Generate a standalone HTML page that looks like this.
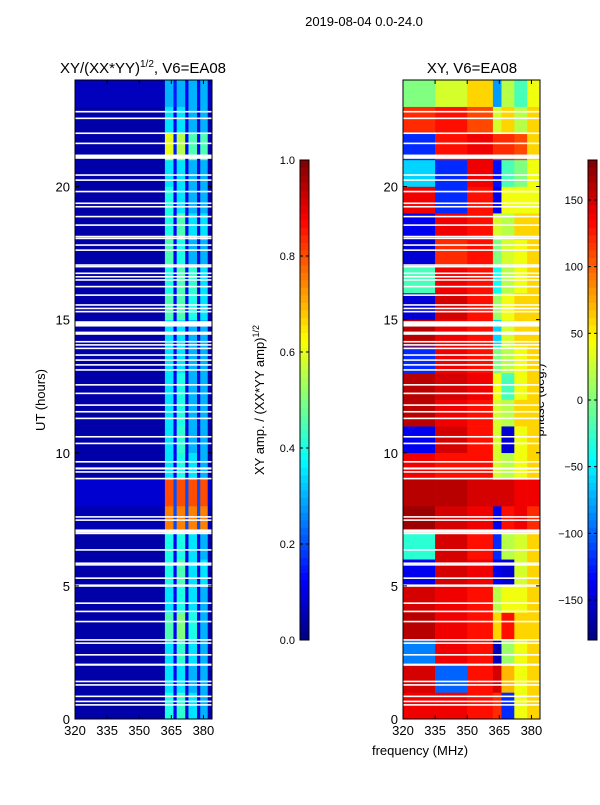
<!DOCTYPE html>
<html><head><meta charset="utf-8">
<style>
body{margin:0;background:#fff;width:600px;height:800px;overflow:hidden;font-family:"Liberation Sans",sans-serif}
svg text{font-family:"Liberation Sans",sans-serif;fill:#000}
</style></head><body>
<svg id="fig" width="600" height="800" xmlns="http://www.w3.org/2000/svg">
<text x="364" y="26" font-size="13" text-anchor="middle">2019-08-04 0.0-24.0</text>
<text x="143" y="73" font-size="15" text-anchor="middle">XY/(XX*YY)<tspan font-size="10" dy="-6">1/2</tspan><tspan dy="6">, V6=EA08</tspan></text>
<text x="472" y="73" font-size="15" text-anchor="middle">XY, V6=EA08</text>
<text transform="translate(45,400) rotate(-90)" font-size="13" text-anchor="middle">UT (hours)</text>
<text x="420" y="755" font-size="13" text-anchor="middle">frequency (MHz)</text>
<text transform="translate(264,400) rotate(-90)" font-size="13" text-anchor="middle">XY amp. / (XX*YY amp)<tspan font-size="9" dy="-5">1/2</tspan></text>
<text transform="translate(544,400) rotate(-90)" font-size="13" text-anchor="middle">phase (deg.)</text>
<g id="L"></g>
<g id="R"></g>
<g id="C"></g>
<g id="A"></g>
</svg>
<script>
const hours=[0,1,2,3,4,5,6,7,8,9,10,11,12,13,14,15,16,17,18,19,20,21,22,23];
const ampEdges=[320,362,366,367.5,371.5,373,377,378.5,382,384];
// rows from 0-1h up to 23-24h
const ampVals=[
[.04,.4,.12,.42,.1,.35,.1,.3,.04],
[.04,.35,.12,.35,.1,.3,.1,.3,.04],
[.04,.35,.12,.42,.1,.35,.1,.3,.04],
[.04,.45,.12,.5,.1,.4,.1,.3,.04],
[.04,.35,.12,.4,.1,.35,.1,.3,.04],
[.04,.4,.12,.45,.1,.35,.1,.35,.04],
[.04,.4,.12,.4,.1,.35,.1,.3,.04],
[.05,.75,.2,.75,.2,.75,.2,.75,.05],
[.08,.8,.2,.8,.2,.8,.2,.8,.08],
[.04,.35,.12,.4,.1,.35,.1,.3,.04],
[.04,.35,.12,.42,.1,.3,.1,.3,.04],
[.04,.35,.12,.4,.1,.3,.1,.3,.04],
[.04,.35,.12,.4,.1,.3,.1,.3,.04],
[.04,.35,.12,.35,.1,.3,.1,.3,.04],
[.04,.35,.12,.35,.1,.3,.1,.3,.04],
[.04,.45,.12,.45,.12,.4,.1,.35,.04],
[.04,.4,.12,.45,.12,.42,.1,.35,.04],
[.04,.45,.12,.4,.1,.3,.1,.3,.04],
[.04,.4,.12,.45,.12,.35,.1,.35,.04],
[.04,.4,.12,.35,.1,.3,.1,.3,.04],
[.04,.35,.12,.35,.1,.3,.1,.3,.04],
[.04,.6,.15,.55,.12,.45,.12,.45,.04],
[.04,.35,.12,.35,.1,.3,.1,.3,.04],
[.06,.3,.15,.3,.12,.3,.12,.3,.06]];
const phEdges=[320,335,350,362,366,372,378,384];
const phVals=[
[140,140,130,120,-120,40,60],
[150,-100,130,150,70,40,60],
[-90,140,130,-160,10,40,60],
[160,140,130,60,130,60,60],
[150,140,130,20,40,40,60],
[-140,150,140,-140,-150,30,60],
[-30,150,130,-120,20,30,60],
[170,150,140,-140,130,140,120],
[160,160,150,150,150,140,140],
[140,130,130,30,20,40,60],
[-140,150,130,30,-150,40,60],
[160,140,130,30,20,60,60],
[160,150,140,40,-20,40,60],
[-120,140,130,0,20,40,60],
[160,140,130,-60,30,60,60],
[-150,150,130,10,40,60,60],
[-20,140,130,-40,20,40,60],
[-150,120,130,0,30,40,60],
[-140,140,130,30,20,60,60],
[140,-120,130,-140,40,40,40],
[-60,-120,140,-130,-20,0,40],
[-120,130,140,120,120,110,60],
[120,130,110,30,60,20,60],
[0,30,60,-80,20,-20,40]];
const gapHours=[22.81,22.56,22.0,21.62,21.12,20.43,20.24,19.81,19.37,19.24,18.87,18.55,18.12,18.05,17.8,17.61,17.05,16.99,16.74,16.61,16.49,16.24,15.92,15.55,15.42,15.3,14.84,14.49,14.17,14.05,13.92,13.67,13.48,13.3,13.11,12.55,12.23,11.79,11.54,11.29,10.6,10.35,9.66,9.41,9.28,9.03,7.59,7.47,7.09,7.03,6.97,6.35,5.85,5.79,5.29,5.01,4.35,4.04,3.66,2.97,2.85,2.41,2.04,1.41,1.28,0.85,0.66,0.53];
const gapWidths=[.06,.06,.06,.06,.16,.06,.06,.06,.06,.06,.06,.06,.06,.06,.06,.06,.06,.06,.06,.06,.06,.06,.06,.06,.06,.06,.2,.12,.06,.06,.06,.06,.06,.06,.06,.06,.06,.06,.06,.06,.06,.06,.06,.08,.06,.06,.06,.06,.06,.06,.06,.06,.06,.06,.06,.09,.06,.06,.06,.06,.06,.06,.08,.06,.06,.06,.06,.06];
const xTicks=[320,335,350,365,380];
const yTicks=[0,5,10,15,20];
const ampTicks=[0,0.2,0.4,0.6,0.8,1.0];
const phTicks=[-150,-100,-50,0,50,100,150];

const NS="http://www.w3.org/2000/svg";
const PT=80,PB=719,LX=75,RX=403,PW=137;
const y=h=>PB-(h/24)*(PB-PT);
const xs=(x0)=>f=>x0+(f-320)*(PW/(384-320));
function jet(v){v=Math.max(0,Math.min(1,v));
 const c=t=>Math.round(255*Math.max(0,Math.min(1,1.5-Math.abs(4*v-t))));
 return `rgb(${c(3)},${c(2)},${c(1)})`;}
function mk(p,tag,at){const e=document.createElementNS(NS,tag);for(const k in at)e.setAttribute(k,at[k]);p.appendChild(e);return e;}
const L=document.getElementById('L'),R=document.getElementById('R'),C=document.getElementById('C'),A=document.getElementById('A');
function heat(g,x0,edges,vals,norm,nm){const X=xs(x0);
 hours.forEach((h,i)=>{vals[i].forEach((v,j)=>{
  const r=mk(g,'rect',{x:X(edges[j]),y:y(h+1),width:X(edges[j+1])-X(edges[j])+0.3,height:y(h)-y(h+1)+0.3,fill:jet(norm(v))});
  
  
 });});
 gapHours.forEach((gh,i)=>{const r=mk(g,'rect',{x:x0,y:y(gh+gapWidths[i]/2),width:PW,height:Math.max(1.2,y(gh-gapWidths[i]/2)-y(gh+gapWidths[i]/2)),fill:'#fff'});
  
  });
}
heat(L,LX,ampEdges,ampVals,v=>v,'amp');
heat(R,RX,phEdges,phVals,v=>(v+180)/360,'phase');
[LX,RX].forEach(x0=>{const X=xs(x0);
 const fr=mk(A,'rect',{x:x0,y:PT,width:PW,height:PB-PT,fill:'none',stroke:'#000','stroke-width':1});
 
 
 xTicks.forEach(t=>{mk(A,'line',{x1:X(t),x2:X(t),y1:PB,y2:PB-4,stroke:'#000'});mk(A,'line',{x1:X(t),x2:X(t),y1:PT,y2:PT+4,stroke:'#000'});
  const tx=mk(A,'text',{x:X(t),y:PB+16,'font-size':13,'text-anchor':'middle'});tx.textContent=t;
  
  });
 yTicks.forEach(t=>{mk(A,'line',{x1:x0,x2:x0+4,y1:y(t),y2:y(t),stroke:'#000'});mk(A,'line',{x1:x0+PW,x2:x0+PW-4,y1:y(t),y2:y(t),stroke:'#000'});
  const tx=mk(A,'text',{x:x0-5,y:y(t)+5,'font-size':13,'text-anchor':'end'});tx.textContent=t;
  
  });
});
function cbar(x,ticks,lo,hi,fmt,nm){const T=160,B=640,N=64;
 for(let i=0;i<N;i++){const r=mk(C,'rect',{x:x,y:B-(i+1)*(B-T)/N,width:9,height:(B-T)/N+0.4,fill:jet((i+0.5)/N)});
  
  }
 mk(C,'rect',{x:x,y:T,width:9,height:B-T,fill:'none',stroke:'#000'});
 ticks.forEach(t=>{const yy=B-(t-lo)/(hi-lo)*(B-T);mk(C,'line',{x1:x,x2:x+3,y1:yy,y2:yy,stroke:'#000'});mk(C,'line',{x1:x+9,x2:x+6,y1:yy,y2:yy,stroke:'#000'});
  const tx=mk(C,'text',{x:x-5,y:yy+4,'font-size':11,'text-anchor':'end'});tx.textContent=fmt(t);
  
  });
}
cbar(300,ampTicks,0,1,t=>t.toFixed(1),'amp-colorbar');
cbar(588,phTicks,-180,180,t=>t<0?'\u2212'+(-t):''+t,'phase-colorbar');
</script>
</body></html>
